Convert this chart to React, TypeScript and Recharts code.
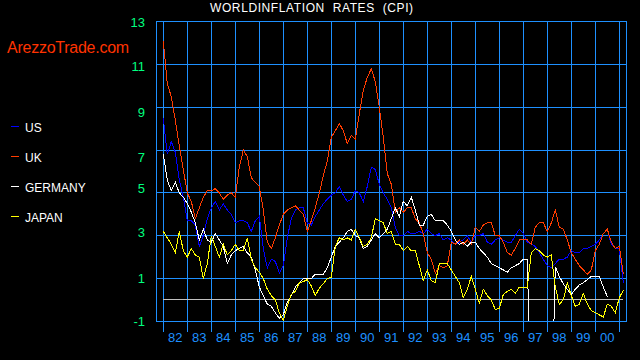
import React from "react";
import { LineChart, Line, XAxis, YAxis, CartesianGrid, ReferenceLine } from "recharts";

// Bi-monthly observations from Jan 1982 to Mar 2001 (annual inflation, %)
const startYear = 1982;
const stepsPerYear = 6;

const us = [
  8.5, 6.8, 7.4, 6.9, 5.6, 4.8,
  3.7, 3.7, 3.5, 2.5, 3.0, 3.8,
  4.3, 4.6, 4.2, 4.5, 4.2, 4.0,
  3.6, 3.7, 3.7, 3.6, 3.2, 3.7,
  3.9, 2.4, 1.5, 1.9, 1.8, 1.25,
  1.6, 2.9, 3.8, 4.2, 4.3, 4.3,
  3.6, 3.5, 3.9, 4.2, 4.5, 4.7,
  4.9, 5.0, 5.3, 4.9, 4.6, 4.7,
  5.1, 5.0, 4.6, 5.3, 6.2, 6.1,
  5.4, 5.0, 4.7, 4.3, 3.4, 3.0,
  3.0, 3.2, 3.1, 3.1, 3.2, 3.1,
  3.3, 3.1, 3.0, 3.1, 2.8, 2.9,
  2.8, 2.6, 2.7, 2.8, 3.0, 2.7,
  3.0, 3.0, 3.1, 2.7, 2.6, 2.8,
  2.9, 2.8, 2.7, 2.7, 3.0, 3.3,
  3.1, 2.7, 2.6, 2.5, 2.2, 1.9,
  1.6, 1.5, 1.7, 1.9, 1.9, 2.0,
  2.3, 2.2, 2.2, 2.4, 2.4, 2.5,
  2.6, 2.8, 3.1, 3.3, 2.6, 2.4,
  2.4, 0.8,
];

const uk = [
  12.1, 10.1, 9.5, 8.4, 7.2, 6.1,
  5.0, 4.6, 3.8, 4.3, 4.8, 5.1,
  5.1, 5.2, 5.0, 4.7, 4.9, 5.0,
  4.8, 6.2, 7.0, 6.7, 5.7, 5.5,
  5.3, 4.2, 2.7, 2.4, 2.9, 3.5,
  4.0, 4.2, 4.3, 4.4, 4.2, 4.0,
  3.2, 3.7, 4.3, 5.0, 5.8, 6.5,
  7.6, 7.9, 8.25, 7.9, 7.3, 7.7,
  7.5, 8.7, 9.8, 10.4, 10.8, 10.2,
  9.0, 7.6, 5.9, 5.4, 4.1, 4.3,
  4.1, 4.3, 4.3, 3.8, 3.6, 3.1,
  2.2, 1.9, 1.25, 1.6, 1.5, 1.6,
  2.7, 2.6, 2.8, 2.6, 2.8, 2.6,
  3.4, 3.2, 3.5, 3.6, 3.6, 3.0,
  3.0, 2.7, 2.2, 2.1, 2.4, 2.8,
  2.8, 2.8, 2.6, 3.4, 3.6, 3.6,
  3.2, 3.6, 4.2, 3.4, 3.3, 2.8,
  2.2, 1.9, 1.6, 1.4, 1.2, 1.4,
  2.3, 2.6, 3.1, 3.3, 2.7, 2.4,
  2.5, 1.2,
];

// values far below the axis mark months missing from the source (drawn off-chart)
const germany = [
  6.8, 5.6, 5.1, 5.5, 5.0, 4.8,
  4.5, 4.1, 3.6, 2.8, 3.3, 2.8,
  2.7, 3.1, 2.8, 2.5, 1.7, 2.1,
  2.3, 2.4, 2.5, 2.2, 2.0, 1.4,
  0.6, 0.2, -0.2, -0.3, -0.6, -0.85,
  -0.7, -0.1, 0.2, 0.6, 0.8, 1.0,
  1.0, 1.0, 1.2, 1.2, 1.2, 1.5,
  2.0, 2.5, 2.7, 2.9, 3.2, 3.3,
  3.0, 2.9, 2.4, 2.5, 2.8, 3.1,
  2.9, 3.1, 3.3, 3.8, 4.3, 3.9,
  4.6, 4.4, 4.8, 4.2, 3.5, 3.5,
  3.9, 4.0, 3.7, 3.7, 3.7, 3.5,
  3.2, 2.8, 2.6, 2.7, 2.5, 2.7,
  2.7, 2.4, 2.2, 2.0, 1.7, 1.6,
  1.5, 1.4, 1.3, 1.5, 1.6, 1.7,
  1.9, 1.9, -6, -6, -6, -6,
  -6, -6, 1.55, 1.1, 0.75, 0.5,
  0.25, 0.5, 0.7, 0.8, 0.95, 1.1,
  1.1, 1.1, 0.6, 0.15, null, null,
  null, null,
];

const japan = [
  3.2, 2.9, 2.6, 2.2, 3.2, 2.3,
  2.0, 2.4, 2.1, 2.0, 1.0, 1.7,
  3.0, 2.5, 2.0, 2.6, 2.1, 2.3,
  2.6, 2.3, 2.3, 2.9, 1.9, 1.5,
  1.3, 1.0, 0.5, 0.2, 0.0, -0.6,
  -0.95, -0.3, 0.25, 0.4, 0.8, 0.85,
  0.95, 0.65, 0.2, 0.55, 0.75, 1.0,
  1.05, 2.5, 2.9, 2.8, 2.9, 2.8,
  3.3, 2.9, 2.5, 2.6, 2.9, 3.8,
  3.7, 3.6, 3.1, 3.2, 2.6, 2.6,
  2.3, 2.5, 2.3, 2.3, 1.6, 0.9,
  1.4, 0.9, 0.8, 1.7, 1.7, 1.7,
  1.4, 1.1, 0.8, 0.1, 0.5, 1.1,
  0.5, -0.15, 0.5, 0.2, 0.0, -0.45,
  -0.4, 0.25, 0.4, 0.5, 0.3, 0.6,
  0.6, 0.6, 2.2, 2.4, 2.3, 2.1,
  2.0, 2.1, 0.6, -0.2, 0.0, 0.8,
  0.2, -0.3, -0.2, 0.3, -0.2, -0.5,
  -0.6, -0.7, -0.8, -0.2, -0.3, -0.6,
  0.1, 0.45,
];

const yearTicks = [1982, 1983, 1984, 1985, 1986, 1987, 1988, 1989, 1990, 1991, 1992, 1993, 1994, 1995, 1996, 1997, 1998, 1999, 2000, 2001];
const yearLabels = ["82", "83", "84", "85", "86", "87", "88", "89", "90", "91", "92", "93", "94", "95", "96", "97", "98", "99", "00"];
const valueTicks = [-1, 1, 3, 5, 7, 9, 11, 13];

const series = [
  { key: "us", name: "US", color: "#0000ff" },
  { key: "uk", name: "UK", color: "#ff3c00" },
  { key: "germany", name: "GERMANY", color: "#ffffff" },
  { key: "japan", name: "JAPAN", color: "#ffff00" },
];

const dates = us.map((_, i) => startYear + i / stepsPerYear);
const data = dates.map((t, i) => ({ t, us: us[i], uk: uk[i], germany: germany[i], japan: japan[i] }));
const labelTicks = yearLabels.map((_, i) => yearTicks[i] + 0.5);

const GRID = "#1e90ff";
const FONT = "'Liberation Sans', Arial, sans-serif";
const X_DOMAIN: [number, number] = [1981.696, 2001.308];

// small vertical nudges of the value labels as placed in the original
const yLabelNudge: Record<string, number> = { "13": 1, "11": 2, "9": 5, "7": 7, "5": -5, "3": -3, "1": 0, "-1": 0 };

const YTick = (props: any) => {
  const { x, y, payload } = props;
  const n = yLabelNudge[String(payload.value)] ?? 0;
  return (
    <text x={x} y={y + n} dy="0.36em" textAnchor="end" fill="#00ff7f" fontSize={13} fontFamily={FONT}>
      {payload.value}
    </text>
  );
};

const EmptyTick = () => <g />;

export default function App() {
  return (
    <div style={{ position: "relative", width: 640, height: 360, background: "#000", overflow: "hidden" }}>
      <style>{`body{margin:0;background:#000}
        .recharts-cartesian-grid line, .recharts-cartesian-axis line, .recharts-reference-line line {shape-rendering: crispEdges}
        .recharts-line-curve {shape-rendering: crispEdges}`}</style>
      <LineChart width={640} height={360} data={data} margin={{ top: 21.7, right: 13.3, bottom: 0, left: 0 }}>
        <CartesianGrid stroke={GRID} strokeWidth={1} verticalPoints={undefined} />
        <XAxis
          type="number"
          dataKey="t"
          domain={X_DOMAIN}
          allowDataOverflow
          ticks={yearTicks}
          interval={0}
          tick={<EmptyTick />}
          tickSize={11}
          tickLine={{ stroke: GRID }}
          axisLine={{ stroke: GRID }}
          height={11}
        />
        <XAxis
          xAxisId="labels"
          type="number"
          dataKey="t"
          domain={X_DOMAIN}
          allowDataOverflow
          ticks={labelTicks}
          interval={0}
          tickFormatter={(v: number) => yearLabels[Math.round(v - 0.5) - yearTicks[0]]}
          tickSize={0}
          tickMargin={0}
          tickLine={false}
          axisLine={false}
          height={27.7}
          tick={{ fill: GRID, fontSize: 13, fontFamily: FONT }}
        />
        <YAxis
          type="number"
          domain={[-1, 13]}
          allowDataOverflow
          ticks={valueTicks}
          interval={0}
          width={156}
          tickSize={0}
          tickMargin={11}
          axisLine={false}
          tickLine={false}
          tick={<YTick />}
        />
        <ReferenceLine
          segment={[
            { x: dates[0], y: 0 },
            { x: dates[dates.length - 1], y: 0 },
          ]}
          stroke="#c0c0c0"
        />
        {series.map((s) => (
          <Line
            key={s.key}
            type="linear"
            dataKey={s.key}
            stroke={s.color}
            strokeWidth={1}
            dot={false}
            activeDot={false}
            isAnimationActive={false}
          />
        ))}
      </LineChart>
      <svg width={640} height={360} style={{ position: "absolute", left: 0, top: 0, pointerEvents: "none" }}>
        <text x={210} y={11.7} fill="#ffffff" fontSize={12} fontFamily={FONT} letterSpacing={0.6}>
          {"WORLDINFLATION\u00a0\u00a0RATES\u00a0\u00a0(CPI)"}
        </text>
        <text x={7} y={53.3} fill="#ff3300" fontSize={16} fontFamily={FONT} letterSpacing={-0.25}>
          ArezzoTrade.com
        </text>
        {series.map((s, i) => (
          <g key={s.key}>
            <line x1={11} x2={19} y1={126 + i * 30} y2={126 + i * 30} stroke={s.color} strokeWidth={1} shapeRendering="crispEdges" />
            <text x={25} y={131.7 + i * 30} fill="#ffffff" fontSize={12} fontFamily={FONT}>
              {s.name}
            </text>
          </g>
        ))}
      </svg>
    </div>
  );
}
